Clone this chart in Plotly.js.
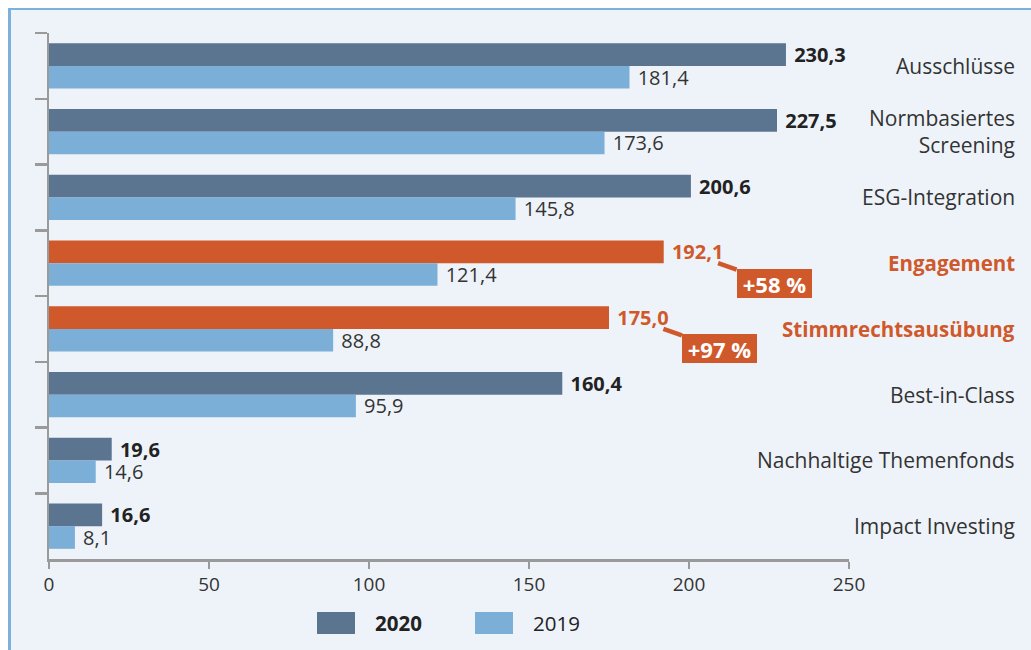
<!DOCTYPE html>
<html><head><meta charset="utf-8">
<script src="https://cdn.plot.ly/plotly-3.0.1.min.js"></script>
<style>
html,body{margin:0;padding:0;background:#fff;overflow:hidden;}
#frame{position:absolute;left:8px;top:8px;width:1040px;height:660px;border-left:3px solid #7db1dc;border-top:2px solid #7db1dc;background:#eef3fa;}
#chart{position:absolute;left:0;top:1px;width:1020px;height:639px;}
</style></head>
<body>
<div id="frame"><div id="chart"></div></div>
<script>
const categories = ["Ausschlüsse", "Normbasiertes<br>Screening", "ESG-Integration", "Engagement",
  "Stimmrechtsausübung", "Best-in-Class", "Nachhaltige Themenfonds", "Impact Investing"];
const values2020 = [230.3, 227.5, 200.6, 192.1, 175.0, 160.4, 19.6, 16.6];
const values2019 = [181.4, 173.6, 145.8, 121.4, 88.8, 95.9, 14.6, 8.1];
const highlighted = ["Engagement", "Stimmrechtsausübung"];
const growthLabels = {"Engagement": "+58 %", "Stimmrechtsausübung": "+97 %"};
const seriesNames = ["2020", "2019"];

const C2020 = "#5b7591", C2019 = "#7bafd8", ORANGE = "#d0592b", DARK = "#222", GREY = "#333";
const FONT = "'Open Sans', Lato, sans-serif";

const isHi = categories.map(c => highlighted.includes(c));
const bar2020Colors = isHi.map(h => h ? ORANGE : C2020);
const text2020Colors = isHi.map(h => h ? ORANGE : DARK);

const traces = [
  {type:"bar", orientation:"h", name:seriesNames[0], y:categories, x:values2020,
   marker:{color:bar2020Colors}, texttemplate:"\u00a0<b>%{x:.1f}</b>", textposition:"outside",
   textfont:{family:FONT, size:20, color:text2020Colors}, constraintext:"none", cliponaxis:false, hoverinfo:"x+y"},
  {type:"bar", orientation:"h", name:seriesNames[1], y:categories, x:values2019,
   marker:{color:C2019}, texttemplate:"\u00a0%{x:.1f}", textposition:"outside",
   textfont:{family:FONT, size:20, color:GREY}, constraintext:"none", cliponaxis:false, hoverinfo:"x+y"}
];

const annotations = categories.map((c, i) => ({
  xref:"paper", x:1.21, yref:"y", y:c, xanchor:"right", yanchor:"middle", align:"right",
  showarrow:false, text: isHi[i] ? "<b>"+c+"</b>" : c,
  font:{family:FONT, size: isHi[i] ? 20.5 : 21, color: isHi[i] ? ORANGE : GREY}
}));

categories.forEach((c, i) => {
  if (growthLabels[c]) {
    annotations.push({
      xref:"x", yref:"y", x: values2020[i] + 17, y: c,
      ax: 56, ay: 20, axref:"pixel", ayref:"pixel",
      showarrow:true, arrowhead:0, arrowwidth:4.5, arrowcolor:ORANGE, standoff:0,
      text:"<b>"+growthLabels[c]+"</b>", bgcolor:ORANGE, borderpad:0, borderwidth:0,
      width:75, height:29, align:"center", valign:"middle",
      font:{family:FONT, size:22, color:"#fff"}
    });
  }
});

// legend (manual, large swatches)
const legendItems = [
  {name:seriesNames[0], color:C2020, x0:0.335, bold:true},
  {name:seriesNames[1], color:C2019, x0:0.5325, bold:false}
];
const shapes = [];
legendItems.forEach(it => {
  shapes.push({type:"rect", xref:"paper", yref:"paper", x0:it.x0, x1:it.x0+0.0475,
    y0:-0.1426, y1:-0.1008, fillcolor:it.color, line:{width:0}});
  annotations.push({xref:"paper", yref:"paper", x:it.x0+0.07, y:-0.1217, xanchor:"left", yanchor:"middle",
    showarrow:false, text: it.bold ? "<b>"+it.name+"</b>" : it.name,
    font:{family:FONT, size:20.5, color:DARK}});
});

const layout = {
  width:1020, height:639,
  margin:{l:38, r:182, t:22, b:91},
  paper_bgcolor:"rgba(0,0,0,0)", plot_bgcolor:"rgba(0,0,0,0)",
  barmode:"group", bargap:0.31, bargroupgap:0,
  separators:", ",
  showlegend:false,
  font:{family:FONT, color:GREY},
  xaxis:{range:[0,250], dtick:50, tick0:0, showgrid:false, zeroline:false,
    showline:true, linecolor:"#9a9a9a", linewidth:2.5,
    ticks:"outside", ticklen:7, tickwidth:2, tickcolor:"#9a9a9a",
    tickfont:{family:FONT, size:19, color:GREY}, fixedrange:true},
  yaxis:{type:"category", autorange:"reversed", showgrid:false, zeroline:false,
    showline:true, linecolor:"#9a9a9a", linewidth:2.5,
    ticks:"outside", tickson:"boundaries", ticklen:12, tickwidth:2.5, tickcolor:"#9a9a9a",
    showticklabels:false, fixedrange:true},
  annotations, shapes
};

Plotly.newPlot("chart", traces, layout, {displayModeBar:false, staticPlot:true});
</script>
</body></html>
